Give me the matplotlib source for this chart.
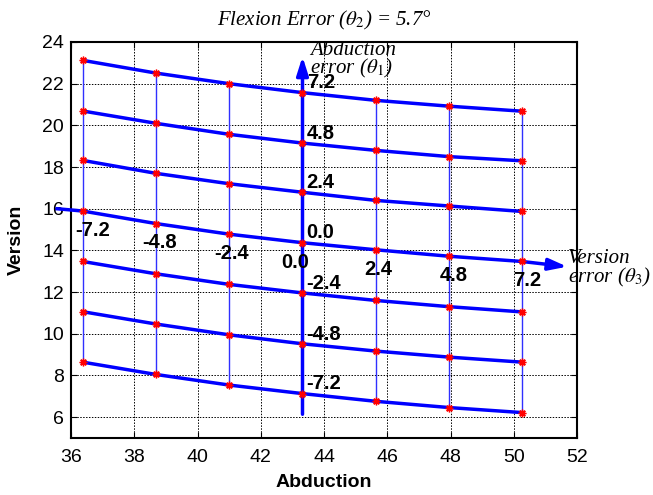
import matplotlib
matplotlib.use("Agg")
import matplotlib.pyplot as plt

# abduction value of each grid column
abduction = [36.37, 38.68, 41.00, 43.32, 45.64, 47.96, 50.26]

# version value of each point, one row per abduction error (theta1)
abduction_errors = ["7.2", "4.8", "2.4", "0.0", "-2.4", "-4.8", "-7.2"]
version_rows = [
    [23.12, 22.51, 22.00, 21.57, 21.20, 20.92, 20.68],
    [20.69, 20.10, 19.57, 19.15, 18.80, 18.50, 18.30],
    [18.32, 17.70, 17.20, 16.79, 16.40, 16.13, 15.87],
    [15.89, 15.29, 14.78, 14.37, 14.03, 13.72, 13.47],
    [13.47, 12.88, 12.37, 11.96, 11.60, 11.30, 11.05],
    [11.06, 10.47, 9.95, 9.52, 9.17, 8.88, 8.64],
    [8.64, 8.05, 7.54, 7.13, 6.76, 6.46, 6.22],
]

# version error (theta3) of each column
version_errors = ["-7.2", "-4.8", "-2.4", "0.0", "2.4", "4.8", "7.2"]

# ends of the two error axes drawn as arrows
theta1_arrow_y = [6.14, 23.30]
theta3_arrow_start = (35.56, 16.00)
theta3_arrow_tip = (51.69, 13.22)

xticks = list(range(36, 53, 2))
yticks = list(range(6, 25, 2))

plt.rcParams["font.family"] = ["Liberation Sans", "DejaVu Sans"]
plt.rcParams["mathtext.fontset"] = "stix"

W, H = 653, 495
fig = plt.figure(figsize=(W / 100, H / 100), dpi=100)
ax = fig.add_axes([71 / W, 1 - 438 / H, 506 / W, 396 / H])

ax.set_xlim(36, 52)
ax.set_ylim(5, 24)
ax.set_xticks(xticks)
ax.set_yticks(yticks)
ax.tick_params(direction="in", top=True, right=True, length=4, width=0.8,
               labelsize=14)
ax.tick_params(axis="x", pad=8)
ax.tick_params(axis="y", pad=5)
ax.grid(True, color="k", linestyle=(0, (1.5, 1.5)), linewidth=0.7)
ax.set_axisbelow(True)
for s in ax.spines.values():
    s.set_linewidth(1.5)

# thin lines joining the points of each column
for j, x in enumerate(abduction):
    col = [row[j] for row in version_rows]
    ax.plot([x, x], [max(col), min(col)], color="#3030ff", lw=1.0, zorder=2)

# thick line per abduction error
for row in version_rows:
    ax.plot(abduction, row, color="blue", lw=2.5, zorder=3)

arrow_kw = dict(arrowstyle="-|>,head_length=1.1,head_width=0.35",
                color="blue", lw=2.5, shrinkA=0, shrinkB=0, mutation_scale=10)

# theta1 axis (vertical arrow through the middle column)
xm = abduction[3]
ax.annotate("", xy=(xm, theta1_arrow_y[1]), xytext=(xm, theta1_arrow_y[0]),
            arrowprops=arrow_kw, annotation_clip=False, zorder=4)

# theta3 axis (middle row extended with an arrow)
mid = version_rows[3]
ax.plot([theta3_arrow_start[0], abduction[0]], [theta3_arrow_start[1], mid[0]],
        color="blue", lw=2.5, clip_on=False, zorder=3)
ax.annotate("", xy=theta3_arrow_tip, xytext=(abduction[-1], mid[-1]),
            arrowprops=arrow_kw, annotation_clip=False, zorder=4)

# red asterisk markers
for row in version_rows:
    ax.plot(abduction, row, linestyle="none", marker=(8, 2, 0), ms=5.5,
            mew=1.0, color="red", zorder=5)

# labels along the theta1 arrow
for lab, row in zip(abduction_errors, version_rows):
    ax.annotate(lab, xy=(xm, row[3]), xytext=(3, 7), textcoords="offset points",
                ha="left", va="center", fontsize=14.5, fontweight="bold", zorder=6)

# labels along the theta3 arrow
col_dx = [7, 3, 2, -5, 2, 3, 4]
for lab, x, y, dx in zip(version_errors, abduction, mid, col_dx):
    ax.annotate(lab, xy=(x, y), xytext=(dx, -14), textcoords="offset points",
                ha="center", va="center", fontsize=14.5, fontweight="bold", zorder=6)

serif = dict(family=["Liberation Serif", "DejaVu Serif"], style="italic",
             fontsize=15)
ax.text(43.56, 24.05, "Abduction\nerror ($\\theta_1$)", ha="left", va="top",
        linespacing=0.8, clip_on=False, zorder=6, **serif)
ax.text(51.70, 14.07, "Version\nerror ($\\theta_3$)", ha="left", va="top",
        linespacing=0.9, clip_on=False, zorder=6, **serif)

fig.text(324 / W, 1 - 20 / H, "Flexion Error ($\\theta_2$) = 5.7°",
         ha="center", va="center", **serif)

ax.set_xlabel("Abduction", fontsize=14, fontweight="bold")
ax.set_ylabel("Version", fontsize=14, fontweight="bold")
ax.xaxis.set_label_coords(0.5, -0.091)
ax.yaxis.set_label_coords(-0.091, 0.5)

fig.savefig("out.png", dpi=100)
